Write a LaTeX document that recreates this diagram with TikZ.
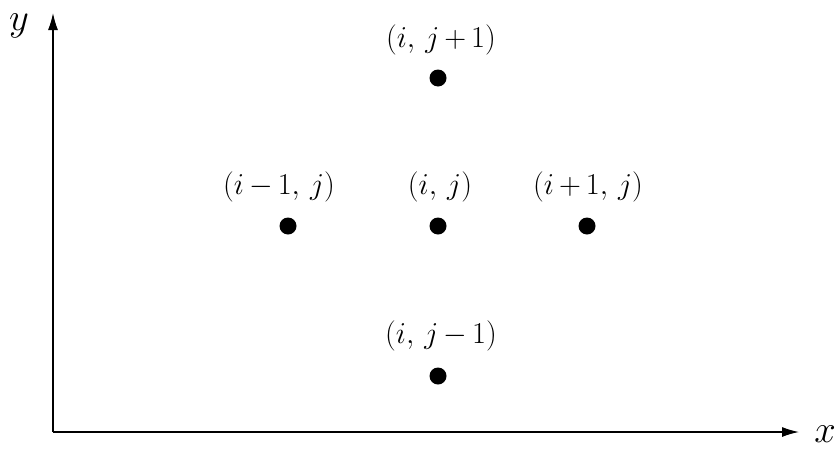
\documentclass[tikz,border=0pt]{standalone}
\usetikzlibrary{arrows.meta}
\newcommand{\lbltext}[1]{\scalebox{1.22}{\fontsize{24.88}{29}\selectfont$#1$}}
\newcommand{\axtext}[1]{\scalebox{1.55}{\fontsize{24.88}{29}\selectfont$#1$}}
\begin{document}
\begin{tikzpicture}[x=1pt,y=-1pt,
  axis/.style={line width=1.3pt,-{Latex[length=17pt,width=10pt]}},
  gridpt/.style={circle,fill=black,inner sep=0pt,minimum size=17pt},
  lbl/.style={inner sep=0pt},
  axlbl/.style={inner sep=0pt}]
\useasboundingbox (0,0) rectangle (840,450);
\coordinate (O) at (53,432);
\coordinate (Ytip) at (53,13);
\coordinate (Xtip) at (799,432);
\draw[axis] (O) -- (Ytip);
\draw[axis] (O) -- (Xtip);
\node[axlbl] (ylab) at (19,26) {\axtext{y}};
\node[axlbl] (xlab) at (825,434) {\axtext{x}};
\node[gridpt] (c) at (438,226) {};
\node[gridpt] (l) at (288,226) {};
\node[gridpt] (r) at (587,226) {};
\node[gridpt] (u) at (438,78) {};
\node[gridpt] (d) at (438,376) {};
\node[lbl] (lc) at (440,187) {\lbltext{(i,\,j)}};
\node[lbl] (ll) at (279,187) {\lbltext{(i\,{-}\,1,\,j)}};
\node[lbl] (lr) at (588,187) {\lbltext{(i\,{+}\,1,\,j)}};
\node[lbl] (lu) at (441,40) {\lbltext{(i,\,j\,{+}\,1)}};
\node[lbl] (ld) at (441,336) {\lbltext{(i,\,j\,{-}\,1)}};
\end{tikzpicture}
\end{document}
